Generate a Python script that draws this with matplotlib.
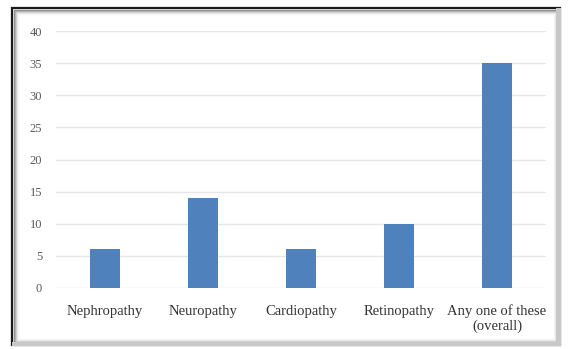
import matplotlib.pyplot as plt
from matplotlib.patches import Rectangle

categories = ["Nephropathy", "Neuropathy", "Cardiopathy", "Retinopathy",
              "Any one of these\n(overall)"]
values = [6, 14, 6, 10, 35]
y_ticks = [0, 5, 10, 15, 20, 25, 30, 35, 40]

W, H = 569, 349
fig = plt.figure(figsize=(W / 100, H / 100), dpi=100)
fig.patch.set_facecolor("white")

# frame with soft inner shadow
def px_rect(x0, y0, x1, y1, **kw):
    fig.patches.append(Rectangle((x0 / W, 1 - y1 / H), (x1 - x0) / W, (y1 - y0) / H,
                                 transform=fig.transFigure, figure=fig, **kw))

for i, g in enumerate([0.55, 0.68, 0.8, 0.9, 0.96]):
    px_rect(14 + i, 10 + i, 558 - i, 343 - i, fill=False,
            edgecolor=str(g), linewidth=1.0)
px_rect(12, 8, 560, 345, fill=False, edgecolor="#1a1a1a", linewidth=1.6)
px_rect(556, 8, 561, 346, fill=True, facecolor="#c8c8c8", edgecolor="none")
px_rect(12, 342, 561, 346, fill=True, facecolor="#c8c8c8", edgecolor="none")

ax = fig.add_axes([56 / W, 1 - 288 / H, (546 - 56) / W, (288 - 31) / H])
x = range(len(categories))
ax.bar(x, values, width=0.31, color="#4f81bd", zorder=3)

ax.set_xlim(-0.5, len(categories) - 0.5)
ax.set_ylim(0, 40)
ax.set_yticks(y_ticks)
ax.set_xticks(list(x))
ax.set_xticklabels(categories, family="Liberation Serif", fontsize=10.5,
                   color="#333333", linespacing=1.15)
for lbl in ax.get_yticklabels():
    lbl.set_family("Liberation Serif")
ax.tick_params(axis="y", labelsize=9, labelcolor="#595959", length=0, pad=10)
ax.tick_params(axis="x", length=0, pad=12)
ax.grid(axis="y", color="#e6e6e6", linewidth=1.0, zorder=0)
for s in ax.spines.values():
    s.set_visible(False)

fig.savefig("out.png", dpi=100)
